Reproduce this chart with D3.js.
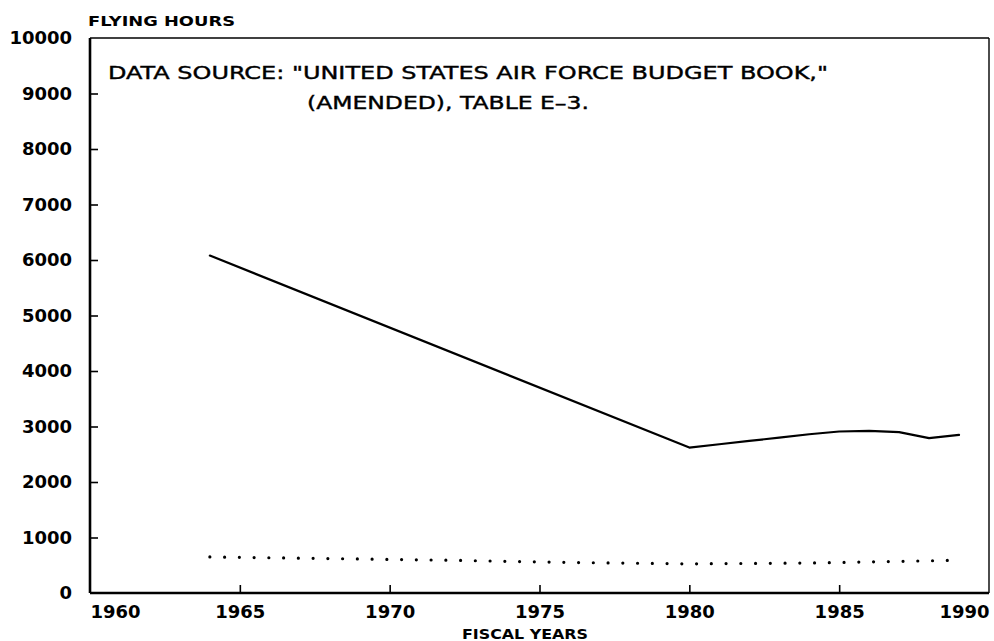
<!DOCTYPE html>
<html><head><meta charset="utf-8">
<script src="https://cdn.jsdelivr.net/npm/d3@7"></script>
<style>body{margin:0;background:#fff}svg{display:block}</style>
</head><body><svg id="c" width="994" height="641"></svg>
<script>
const solidYears = [1964, 1980, 1981, 1982, 1983, 1984, 1985, 1986, 1987, 1988, 1989];
const solidValues = [6080, 2620, 2680, 2740, 2800, 2860, 2910, 2920, 2900, 2790, 2850];
const dotYears = [1964, 1968, 1972, 1976, 1980, 1984, 1987, 1989];
const dotValues = [650, 620, 590, 550, 525, 540, 570, 590];
const xTicks = [1960, 1965, 1970, 1975, 1980, 1985, 1990];
const yTicks = [0, 1000, 2000, 3000, 4000, 5000, 6000, 7000, 8000, 9000, 10000];
const yTitle = "FLYING HOURS";
const xTitle = "FISCAL YEARS";
const note1 = "DATA SOURCE: \"UNITED STATES AIR FORCE BUDGET BOOK,\"";
const note2 = "(AMENDED), TABLE E\u20133.";

const svg = d3.select("#c");
const x = d3.scaleLinear().domain([1960, 1990]).range([90, 989]);
const y = d3.scaleLinear().domain([0, 10000]).range([593, 38]);
const font = "'DejaVu Sans', sans-serif";

// frame top/right
svg.append("line").attr("x1", x(1960)).attr("x2", x(1990)).attr("y1", y(10000)).attr("y2", y(10000))
  .attr("stroke", "#000").attr("stroke-width", 1.4);
svg.append("line").attr("x1", x(1990)).attr("x2", x(1990)).attr("y1", y(10000)).attr("y2", y(0))
  .attr("stroke", "#000").attr("stroke-width", 1.4);

// y axis
const yAxis = svg.append("g").attr("transform", `translate(${x(1960)},0)`)
  .call(d3.axisLeft(y).tickValues(yTicks).tickSize(-8).tickPadding(18).tickFormat(d3.format("d")));
yAxis.select(".domain").attr("stroke-width", 2.6).attr("d", `M0,${y(10000)}V${y(0)}`);
yAxis.selectAll(".tick line").attr("stroke-width", 1.6).filter(d => d === 0 || d === 10000).remove();
yAxis.selectAll("text").attr("font-family", font).attr("font-weight", "bold").attr("font-size", 18).attr("fill", "#000");

// x axis
const xAxis = svg.append("g").attr("transform", `translate(0,${y(0)})`)
  .call(d3.axisBottom(x).tickValues(xTicks).tickSize(-8).tickPadding(12).tickFormat(d3.format("d")));
xAxis.select(".domain").attr("stroke-width", 2.6).attr("d", `M${x(1960)},0H${x(1990)}`);
xAxis.selectAll(".tick line").attr("stroke-width", 1.6).filter(d => d === 1960 || d === 1990).remove();
xAxis.selectAll("text").attr("font-family", font).attr("font-weight", "bold").attr("font-size", 18).attr("fill", "#000")
  .attr("text-anchor", d => d === 1960 ? "start" : d === 1990 ? "end" : "middle");

// lines
const solid = solidYears.map((d, i) => [d, solidValues[i]]);
const dots = dotYears.map((d, i) => [d, dotValues[i]]);
const line = d3.line().x(d => x(d[0])).y(d => y(d[1]));
svg.append("path").attr("d", line(solid)).attr("fill", "none").attr("stroke", "#000")
  .attr("stroke-width", 2.2).attr("stroke-linejoin", "round").attr("stroke-linecap", "round");
svg.append("path").attr("d", line(dots)).attr("fill", "none").attr("stroke", "#000")
  .attr("stroke-width", 3.2).attr("stroke-linecap", "round").attr("stroke-dasharray", "0,14.75");

// titles
svg.append("text").attr("x", 88).attr("y", 26).text(yTitle).attr("font-weight", "bold")
  .attr("font-family", font).attr("font-size", 14).attr("textLength", 147).attr("lengthAdjust", "spacingAndGlyphs");
svg.append("text").attr("x", 462).attr("y", 639).text(xTitle).attr("font-weight", "bold")
  .attr("font-family", font).attr("font-size", 14).attr("textLength", 126).attr("lengthAdjust", "spacingAndGlyphs");
svg.append("text").attr("x", 108).attr("y", 79).text(note1)
  .attr("font-family", font).attr("font-size", 18).attr("stroke", "#000").attr("stroke-width", 0.4)
  .attr("textLength", 720).attr("lengthAdjust", "spacingAndGlyphs");
svg.append("text").attr("x", 307).attr("y", 109).text(note2)
  .attr("font-family", font).attr("font-size", 18).attr("stroke", "#000").attr("stroke-width", 0.4)
  .attr("textLength", 282).attr("lengthAdjust", "spacingAndGlyphs");
</script></body></html>
